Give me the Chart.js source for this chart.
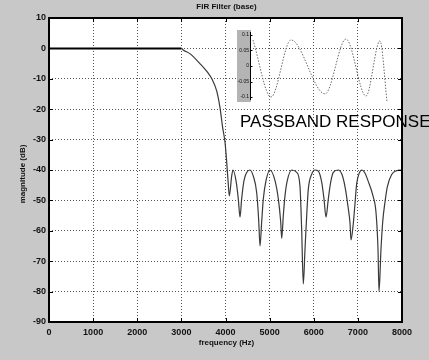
<!DOCTYPE html>
<html>
<head>
<meta charset="utf-8">
<title>FIR Filter (base)</title>
<script src="https://cdn.jsdelivr.net/npm/chart.js@4.4.1/dist/chart.umd.min.js"></script>
<style>
  html, body { margin: 0; padding: 0; background: #c8c8c8; }
  .wrap { position: relative; width: 429px; height: 360px; overflow: hidden; }
  #main { position: absolute; left: 0; top: 0; }
  #inset { position: absolute; left: 232px; top: 28px; }
</style>
</head>
<body>
<div class="wrap">
  <canvas id="main" width="429" height="360"></canvas>
  <canvas id="inset" width="160" height="80"></canvas>
</div>
<script>
/* FIR filter magnitude response (dB vs Hz) with a small passband-ripple inset. */

// Main response
const freqHz = [
  0, 500, 1000, 1500, 2000, 2500, 3000, 3040, 3200, 3420, 3600, 3690, 3800, 3875, 3935, 3990, 4025, 4055, 4086,
  4140, 4170, 4238, 4290, 4329,
  4366, 4419, 4480, 4555, 4630, 4707, 4752, 4782,
  4820, 4857, 4918, 5008, 5122, 5197, 5251, 5274,
  5310, 5348, 5400, 5501, 5614, 5688, 5726, 5763,
  5802, 5840, 5877, 5953, 6028, 6103, 6180, 6232, 6278,
  6330, 6384, 6443, 6550, 6640, 6708, 6776, 6822, 6844,
  6897, 6935, 6973, 7032, 7093, 7160, 7229, 7343, 7411, 7456, 7479,
  7524, 7563, 7615, 7666, 7766, 7880, 7955, 8000,
];
const magDb = [
  0, 0, 0, 0, 0, 0, 0, -0.5, -1.8, -5, -8, -10, -14, -19.5, -26, -31, -37, -43, -48.5,
  -42, -40, -43.5, -49.5, -55.5,
  -49.5, -43.5, -40.8, -40, -42, -47.5, -56.5, -65,
  -57, -49.5, -43.5, -40, -43.5, -49.5, -57, -62.5,
  -55, -48.5, -43.5, -40, -40.8, -45.4, -59.5, -77.5,
  -66, -55, -46.3, -41.4, -40, -40.4, -44, -49.5, -55.5,
  -49.5, -44, -40.8, -40, -41.5, -45.5, -52, -57.5, -63,
  -57.5, -51, -44.5, -41, -40, -41, -43.5, -48.5, -54, -66, -80,
  -66, -57, -50.5, -45.6, -41.5, -40.2, -40, -40.2,
];
const xTicks = [0, 1000, 2000, 3000, 4000, 5000, 6000, 7000, 8000];
const yTicks = [10, 0, -10, -20, -30, -40, -50, -60, -70, -80, -90];

// Passband ripple inset
const insetHz = [43, 432, 863, 1597, 2050, 2482, 2784, 2935];
const insetMag = [0.084, -0.1, 0.084, -0.09, 0.087, -0.097, 0.081, -0.113];
const insetTicks = [0.1, 0.05, 0, -0.05, -0.1];
const insetTickLabels = ["0.1", "0.05", "0", "-0.05", "-0.1"];

const palette = {
  paper: "#c8c8c8",
  plot: "#ffffff",
  ink: "#111111",
  grid: "#555555",
  curve: "#3a3a3a",
  insetCurve: "#6a6a6a",
  insetBox: "#b4b4b4",
};
const family = '"Liberation Sans", Arial, sans-serif';

(function () {
  const framePlugin = {
    id: "frame",
    beforeDraw(chart) {
      const { ctx, chartArea: a } = chart;
      ctx.save();
      ctx.fillStyle = palette.paper;
      ctx.fillRect(0, 0, chart.width, chart.height);
      ctx.fillStyle = palette.plot;
      ctx.fillRect(a.left, a.top, a.right - a.left, a.bottom - a.top);
      ctx.restore();
    },
    afterDraw(chart) {
      const { ctx, chartArea: a } = chart;
      const x = chart.scales.x;
      const y = chart.scales.y;
      ctx.save();
      // box
      ctx.strokeStyle = "#000";
      ctx.lineWidth = 2;
      ctx.strokeRect(a.left, a.top, a.right - a.left, a.bottom - a.top);
      // inward tick marks
      ctx.lineWidth = 1;
      x.ticks.forEach((t) => {
        const px = Math.round(x.getPixelForValue(t.value)) + 0.5;
        ctx.beginPath();
        ctx.moveTo(px, a.bottom); ctx.lineTo(px, a.bottom - 4);
        ctx.moveTo(px, a.top); ctx.lineTo(px, a.top + 4);
        ctx.stroke();
      });
      y.ticks.forEach((t) => {
        const py = Math.round(y.getPixelForValue(t.value)) + 0.5;
        ctx.beginPath();
        ctx.moveTo(a.left, py); ctx.lineTo(a.left + 4, py);
        ctx.moveTo(a.right, py); ctx.lineTo(a.right - 4, py);
        ctx.stroke();
      });
      // title and axis titles
      const cx = (a.left + a.right) / 2;
      ctx.fillStyle = palette.ink;
      ctx.textAlign = "center";
      ctx.textBaseline = "middle";
      ctx.font = "bold 8px " + family;
      ctx.fillText("FIR Filter (base)", cx + 1, 7);
      ctx.fillText("frequency (Hz)", cx + 1, 343);
      ctx.save();
      ctx.translate(23, (a.top + a.bottom) / 2 + 4);
      ctx.rotate(-Math.PI / 2);
      ctx.fillText("magnitude (dB)", 0, 0);
      ctx.restore();
      // annotation
      ctx.textAlign = "left";
      ctx.textBaseline = "alphabetic";
      ctx.font = "17px " + family;
      ctx.fillStyle = "#000";
      ctx.fillText("PASSBAND RESPONSE", 240, 127);
      ctx.restore();
    },
  };

  new Chart(document.getElementById("main"), {
    type: "line",
    data: {
      datasets: [{
        data: freqHz.map((f, i) => ({ x: f, y: magDb[i] })),
        borderColor: palette.curve,
        borderWidth: 1.2,
        pointRadius: 0,
        cubicInterpolationMode: "monotone",
        segment: {
          borderColor: (ctx) => (ctx.p1.parsed.x <= 3000 ? "#000" : undefined),
          borderWidth: (ctx) => (ctx.p1.parsed.x <= 3000 ? 2 : undefined),
        },
      }],
    },
    options: {
      responsive: false,
      animation: false,
      devicePixelRatio: 1,
      layout: { padding: { top: 18, right: 27, left: 0, bottom: 0 } },
      plugins: { legend: { display: false }, tooltip: { enabled: false } },
      scales: {
        x: {
          type: "linear",
          min: 0,
          max: 8000,
          afterBuildTicks: (s) => { s.ticks = xTicks.map((v) => ({ value: v })); },
          afterFit: (s) => { s.height = 38; },
          ticks: {
            font: { family, size: 9, weight: "bold" },
            color: palette.ink,
            padding: 5,
            maxRotation: 0,
            autoSkip: false,
            callback: (v) => String(v),
          },
          grid: { color: palette.grid, lineWidth: 1, drawTicks: false },
          border: { display: false, dash: [1, 2] },
        },
        y: {
          min: -90,
          max: 10,
          afterBuildTicks: (s) => { s.ticks = yTicks.map((v) => ({ value: v })); },
          afterFit: (s) => { s.width = 49; },
          ticks: {
            font: { family, size: 9, weight: "bold" },
            color: palette.ink,
            padding: 3,
            autoSkip: false,
            callback: (v) => String(v),
          },
          grid: { color: palette.grid, lineWidth: 1, drawTicks: false },
          border: { display: false, dash: [1, 2] },
        },
      },
    },
    plugins: [framePlugin],
  });

  const insetPlugin = {
    id: "insetAxis",
    beforeDraw(chart) {
      const { ctx, chartArea: a } = chart;
      const y = chart.scales.y;
      ctx.save();
      ctx.fillStyle = palette.insetBox;
      ctx.fillRect(y.right - 14, a.top - 5, 14, a.bottom - a.top + 10);
      ctx.restore();
    },
    afterDraw(chart) {
      const { ctx, chartArea: a } = chart;
      const y = chart.scales.y;
      const ax = Math.round(y.right) - 0.5;
      ctx.save();
      ctx.strokeStyle = "#000";
      ctx.lineWidth = 1;
      ctx.beginPath();
      ctx.moveTo(ax, a.top - 3);
      ctx.lineTo(ax, a.bottom + 3);
      y.ticks.forEach((t) => {
        const py = Math.round(y.getPixelForValue(t.value)) + 0.5;
        ctx.moveTo(ax, py);
        ctx.lineTo(ax + 2, py);
      });
      ctx.stroke();
      ctx.restore();
    },
  };

  new Chart(document.getElementById("inset"), {
    type: "line",
    data: {
      datasets: [{
        data: insetHz.map((f, i) => ({ x: f, y: insetMag[i] })),
        borderColor: palette.insetCurve,
        borderWidth: 1,
        borderDash: [1.5, 1.5],
        pointRadius: 0,
        cubicInterpolationMode: "monotone",
        clip: false,
      }],
    },
    options: {
      responsive: false,
      animation: false,
      devicePixelRatio: 1,
      layout: { padding: { top: 7, bottom: 11, right: 2, left: 0 } },
      plugins: { legend: { display: false }, tooltip: { enabled: false } },
      scales: {
        x: { type: "linear", min: 0, max: 3000, display: false },
        y: {
          min: -0.1,
          max: 0.1,
          afterBuildTicks: (s) => { s.ticks = insetTicks.map((v) => ({ value: v })); },
          afterFit: (s) => { s.width = 19; },
          ticks: {
            font: { family, size: 5 },
            color: palette.ink,
            padding: 2,
            autoSkip: false,
            callback: (v, i) => insetTickLabels[i],
          },
          grid: { display: false, drawTicks: false },
          border: { display: false },
        },
      },
    },
    plugins: [insetPlugin],
  });
})();
</script>
</body>
</html>
